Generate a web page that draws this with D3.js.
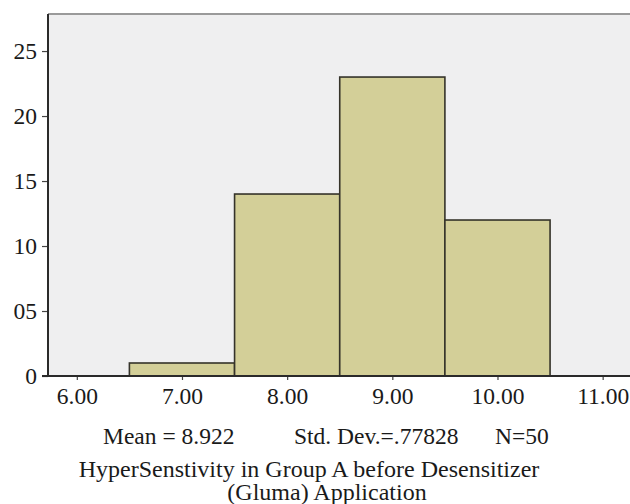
<!DOCTYPE html>
<html>
<head>
<meta charset="utf-8">
<script src="https://cdn.jsdelivr.net/npm/d3@7"></script>
<style>
  body { margin: 0; background: #fff; }
  text { font-family: "Liberation Serif", "Times New Roman", serif; fill: #1a1a1a; }
</style>
</head>
<body>
<svg width="630" height="504"></svg>
<script>
// histogram bins (lower edge, upper edge) and frequencies
var binStarts = [6.5, 7.5, 8.5, 9.5];
var binEnds = [7.5, 8.5, 9.5, 10.5];
var counts = [1, 14, 23, 12];

var xTicks = [6, 7, 8, 9, 10, 11];
var yTicks = [0, 5, 10, 15, 20, 25];
var yTickLabels = ["0", "05", "10", "15", "20", "25"];

var statsLine = ["Mean = 8.922", "Std. Dev.=.77828", "N=50"];
var titleLines = ["HyperSenstivity in Group A before Desensitizer", "(Gluma) Application"];

var width = 630;
var height = 504;
var plotLeft = 48, plotRight = 630, plotTop = 14, plotBottom = 376;

var svg = d3.select("svg");

var xScale = d3.scaleLinear()
               .domain([5.726, 11.26])
               .range([plotLeft, plotRight]);

var yScale = d3.scaleLinear()
               .domain([0, 27.85])
               .range([plotBottom, plotTop]);

// plot background
svg.append("rect")
  .attr("x", plotLeft)
  .attr("y", plotTop)
  .attr("width", plotRight - plotLeft)
  .attr("height", plotBottom - plotTop)
  .attr("fill", "#efeff0");

// top frame line
svg.append("line")
  .attr("x1", plotLeft).attr("x2", plotRight)
  .attr("y1", plotTop).attr("y2", plotTop)
  .attr("stroke", "#9a9a9a")
  .attr("stroke-width", 2);

var bins = counts.map(function(c, i) {
  return { x0: binStarts[i], x1: binEnds[i], n: c };
});

svg.selectAll("rect.bar")
  .data(bins)
  .enter()
  .append("rect")
  .attr("class", "bar")
  .attr("x", function(d) { return xScale(d.x0); })
  .attr("y", function(d) { return yScale(d.n); })
  .attr("width", function(d) { return xScale(d.x1) - xScale(d.x0); })
  .attr("height", function(d) { return yScale(0) - yScale(d.n); })
  .attr("fill", "#d3cf98")
  .attr("stroke", "#35332a")
  .attr("stroke-width", 1.6);

// y axis
var yAxis = d3.axisLeft(yScale)
  .tickValues(yTicks)
  .tickFormat(function(d, i) { return yTickLabels[i]; })
  .tickSize(6)
  .tickPadding(5);

var gy = svg.append("g")
  .attr("transform", "translate(" + plotLeft + ",0)")
  .call(yAxis);
gy.select(".domain").remove();
gy.selectAll(".tick line").attr("stroke", "#444").attr("stroke-width", 1.2);
gy.selectAll(".tick text")
  .attr("font-size", "23.5px")
  .attr("font-family", "Liberation Serif")
  .attr("fill", "#1a1a1a");

svg.append("line")
  .attr("x1", plotLeft).attr("x2", plotLeft)
  .attr("y1", plotTop).attr("y2", plotBottom)
  .attr("stroke", "#2a2a2a")
  .attr("stroke-width", 2);

// x axis
var xAxis = d3.axisBottom(xScale)
  .tickValues(xTicks)
  .tickFormat(d3.format(".2f"))
  .tickSize(4)
  .tickPadding(7);

var gx = svg.append("g")
  .attr("transform", "translate(0," + plotBottom + ")")
  .call(xAxis);
gx.select(".domain").remove();
gx.selectAll(".tick line").attr("stroke", "#444").attr("stroke-width", 1.2);
gx.selectAll(".tick text")
  .attr("font-size", "23.5px")
  .attr("font-family", "Liberation Serif")
  .attr("fill", "#1a1a1a");

svg.append("line")
  .attr("x1", 42).attr("x2", plotRight)
  .attr("y1", plotBottom).attr("y2", plotBottom)
  .attr("stroke", "#2a2a2a")
  .attr("stroke-width", 2);

// summary statistics
var statsX = [103, 294, 495];
svg.selectAll("text.stat")
  .data(statsLine)
  .enter()
  .append("text")
  .attr("class", "stat")
  .attr("x", function(d, i) { return statsX[i]; })
  .attr("y", 444)
  .attr("font-size", "23.5px")
  .text(function(d) { return d; });

// axis title
svg.selectAll("text.title")
  .data(titleLines)
  .enter()
  .append("text")
  .attr("class", "title")
  .attr("x", function(d, i) { return i === 0 ? 309 : 327; })
  .attr("y", function(d, i) { return 477 + i * 23; })
  .attr("text-anchor", "middle")
  .attr("font-size", "24px")
  .text(function(d) { return d; });
</script>
</body>
</html>
